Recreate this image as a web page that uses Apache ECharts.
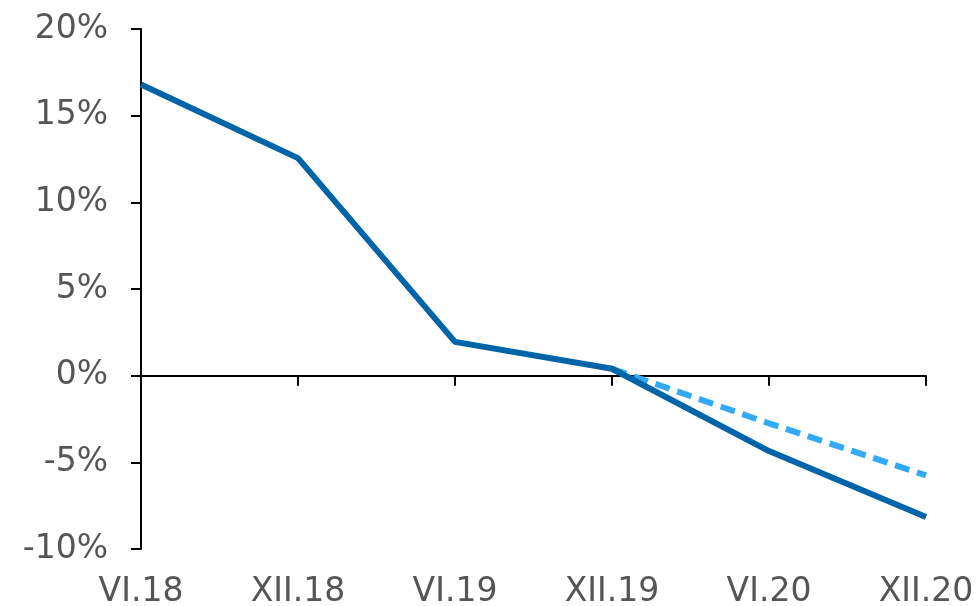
<!DOCTYPE html>
<html><head><meta charset="utf-8">
<script src="https://cdn.jsdelivr.net/npm/echarts@6/dist/echarts.min.js"></script>
<style>html,body{margin:0;padding:0;background:#fff}#c{width:979px;height:606px}</style>
</head><body><div id="c"></div>
<script>
const categories = ['VI.18', 'XII.18', 'VI.19', 'XII.19', 'VI.20', 'XII.20'];
const solidValues = [16.8, 12.55, 1.95, 0.4, -4.35, -8.15];
const dashedValues = [null, null, null, 0.4, -2.75, -5.75];
const yTicks = { min: -10, max: 20, interval: 5 };

const font = 'DejaVu Sans';
const chart = echarts.init(document.getElementById('c'));
chart.setOption({
  animation: false,
  grid: { left: 141, right: 53, top: 29, bottom: 57, containLabel: false, outerBoundsMode: 'none' },
  xAxis: [
    {
      type: 'category', data: categories, boundaryGap: false,
      axisLine: { onZero: true, lineStyle: { color: '#000', width: 2 } },
      axisTick: { show: true, length: 10, inside: false, lineStyle: { color: '#000', width: 2 } },
      axisLabel: { show: false }, splitLine: { show: false }
    },
    {
      type: 'category', data: categories, boundaryGap: false, position: 'bottom',
      axisLine: { show: false, onZero: false }, axisTick: { show: false },
      axisLabel: { show: true, color: '#555', fontFamily: font, fontSize: 33, margin: 27 },
      splitLine: { show: false }
    }
  ],
  yAxis: {
    type: 'value', min: yTicks.min, max: yTicks.max, interval: yTicks.interval,
    axisLine: { show: true, lineStyle: { color: '#000', width: 2 } },
    axisTick: { show: true, length: 10, lineStyle: { color: '#000', width: 2 } },
    axisLabel: { color: '#555', fontFamily: font, fontSize: 33, margin: 33, formatter: v => v + '%' },
    splitLine: { show: false }
  },
  series: [
    {
      type: 'line', data: dashedValues, xAxisIndex: 0, showSymbol: false, symbol: 'none',
      lineStyle: { color: '#33aaf5', width: 6, type: [15, 8] }, z: 2
    },
    {
      type: 'line', data: solidValues, xAxisIndex: 0, showSymbol: false, symbol: 'none',
      lineStyle: { color: '#0064a8', width: 6 }, z: 3
    }
  ]
});
</script></body></html>
